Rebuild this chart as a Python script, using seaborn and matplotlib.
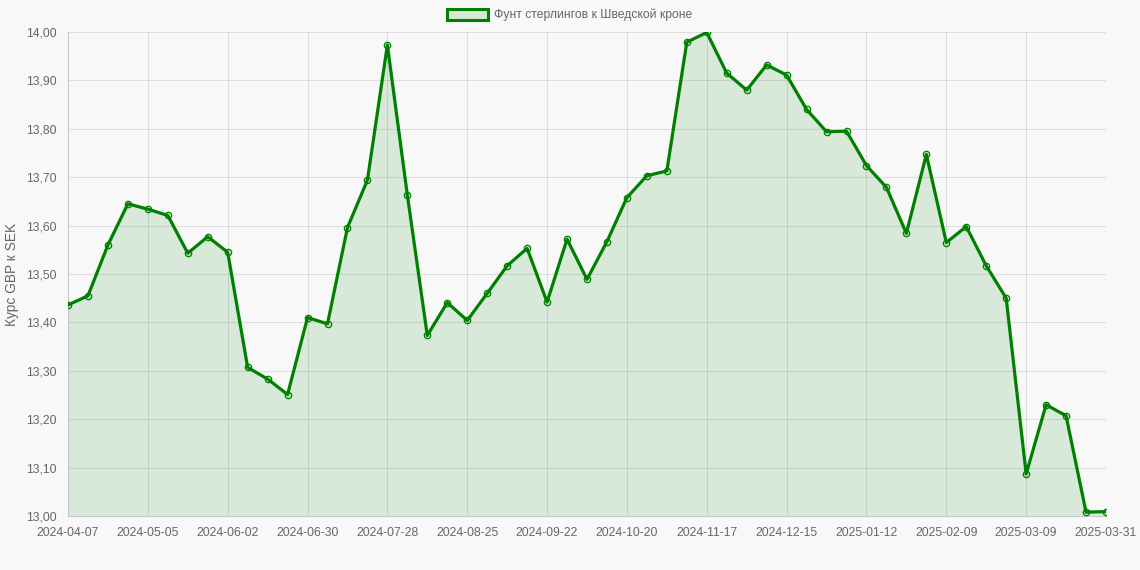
import numpy as np
import pandas as pd
import seaborn as sns
import matplotlib.pyplot as plt
from matplotlib.patches import Patch
from matplotlib.ticker import FuncFormatter

# weekly dates (category labels on x axis)
dates = list(pd.date_range("2024-04-07", "2025-03-30", freq="7D").strftime("%Y-%m-%d")) + ["2025-03-31"]

rate = [13.436, 13.455, 13.560, 13.645, 13.634, 13.621, 13.543, 13.577, 13.545, 13.307,
        13.283, 13.251, 13.410, 13.397, 13.596, 13.694, 13.973, 13.663, 13.373, 13.441,
        13.404, 13.460, 13.517, 13.553, 13.442, 13.572, 13.489, 13.567, 13.658, 13.703,
        13.713, 13.979, 13.999, 13.915, 13.880, 13.932, 13.911, 13.840, 13.794, 13.795,
        13.724, 13.679, 13.584, 13.747, 13.565, 13.598, 13.517, 13.450, 13.087, 13.230,
        13.207, 13.008, 13.009]

series_name = "Фунт стерлингов к Шведской кроне"
y_label = "Курс GBP к SEK"

df = pd.DataFrame({"pos": np.arange(len(dates)), "date": dates, "rate": rate})

sns.set_theme(style="white")
plt.rcParams["font.family"] = ["Liberation Sans", "DejaVu Sans"]

bg = "#f8f8f8"
green = "#008000"
grid_c = "#dcdcdc"
txt_c = "#666666"

fig = plt.figure(figsize=(11.4, 5.7), dpi=100, facecolor=bg)
ax = fig.add_axes([68 / 1140, 1 - 516 / 570, 1038 / 1140, 484 / 570])
ax.set_facecolor(bg)

ax.fill_between(df["pos"], df["rate"], 13.0, color=green, alpha=0.12, lw=0, zorder=1)
sns.lineplot(data=df, x="pos", y="rate", ax=ax, color=green, lw=2.3, zorder=3,
             marker="o", markersize=4.6, markerfacecolor=(0.0, 0.5, 0.0, 0.12),
             markeredgecolor=green, markeredgewidth=0.9)

ax.set_xlim(0, len(dates) - 1)
ax.set_ylim(13.0, 14.0)

tick_pos = list(range(0, len(dates) - 1, 4)) + [len(dates) - 1]
ax.set_xticks(tick_pos)
ax.set_xticklabels([dates[i] for i in tick_pos])
ax.set_yticks(np.arange(13.0, 14.01, 0.1))
ax.yaxis.set_major_formatter(FuncFormatter(lambda v, p: f"{v:.2f}".replace(".", ",")))

ax.grid(True, color="black", alpha=0.1, lw=0.8, zorder=0)
ax.set_axisbelow(True)
for side in ["top", "right"]:
    ax.spines[side].set_visible(False)
for side in ["left", "bottom"]:
    ax.spines[side].set_color("#c8c8c8")
    ax.spines[side].set_linewidth(0.8)

ax.tick_params(axis="both", direction="out", length=6, width=0.8, color=grid_c,
               labelsize=8.7, labelcolor=txt_c, pad=2)
ax.set_xlabel("")
ax.set_ylabel(y_label, fontsize=9.9, color=txt_c, labelpad=5)

handle = Patch(facecolor=(0.84, 0.91, 0.84), edgecolor=green, linewidth=2.2, label=series_name)
fig.legend(handles=[handle], loc="center", bbox_to_anchor=(0.5, 1 - 15 / 570), frameon=False,
           fontsize=8.7, labelcolor=txt_c, handlelength=3.4, handleheight=1.1, handletextpad=0.5)

fig.savefig("out.png", dpi=100, facecolor=bg)
